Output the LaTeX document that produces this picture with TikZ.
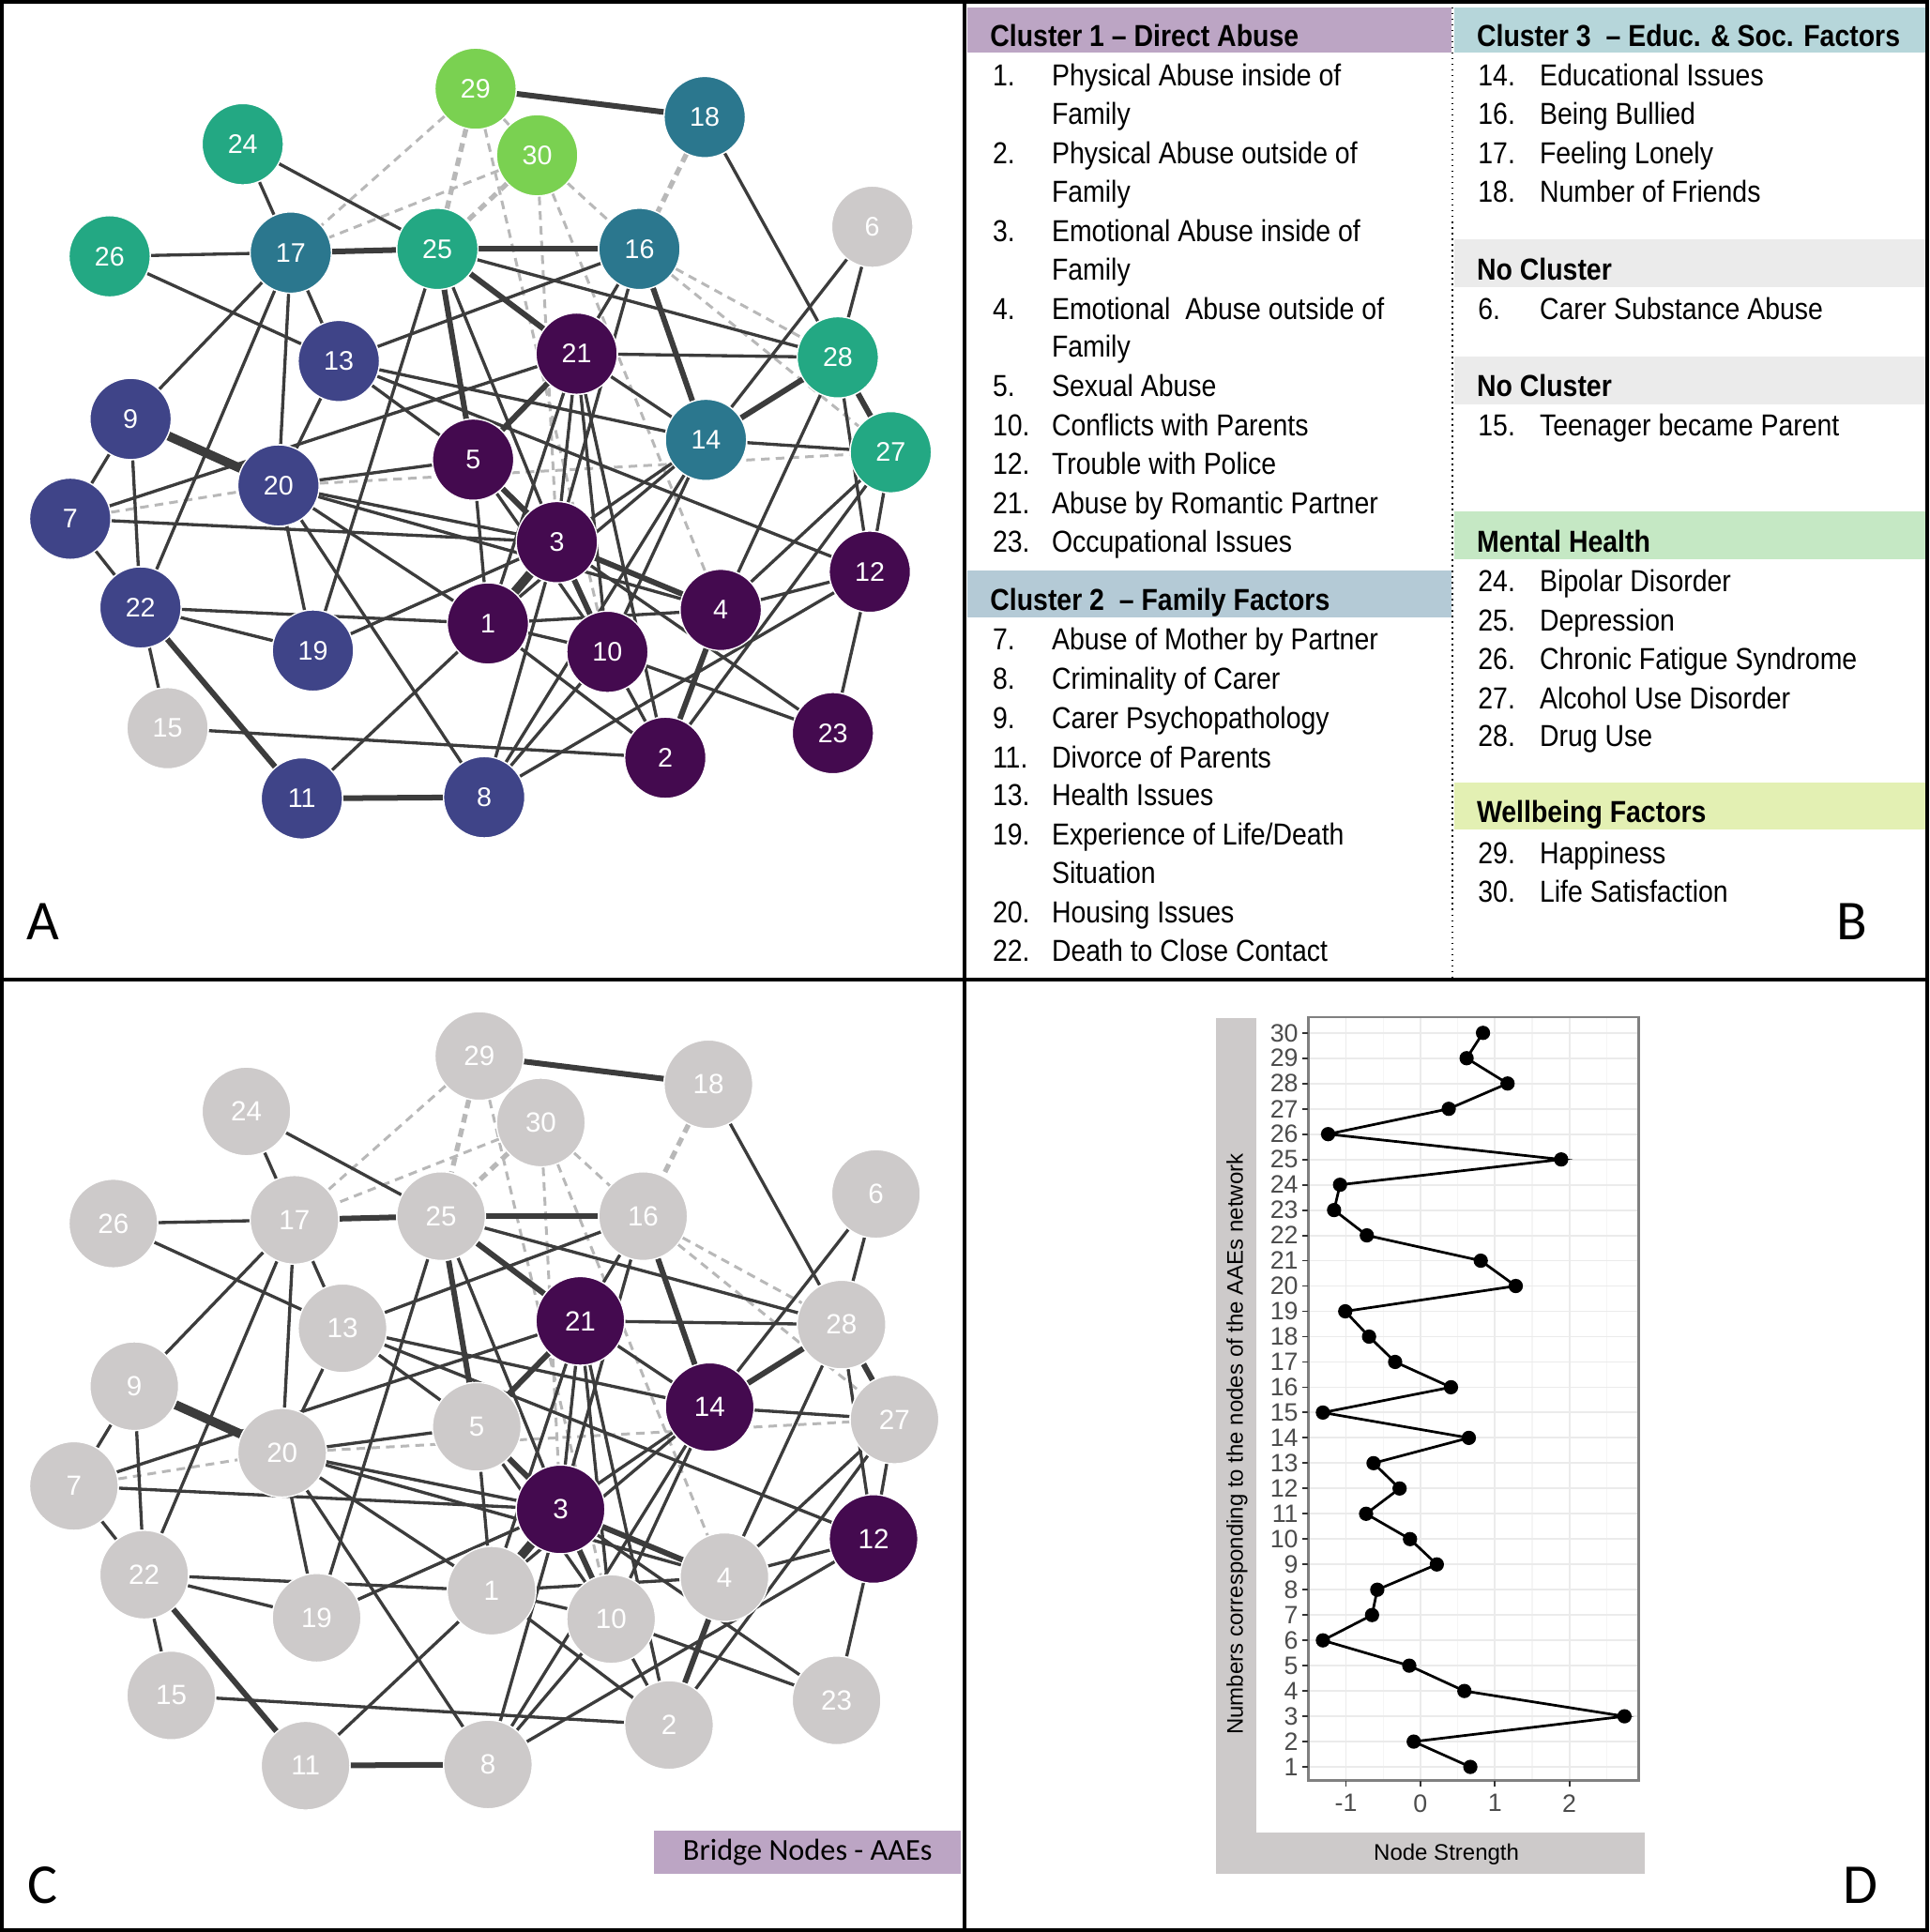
\documentclass[tikz,border=0pt]{standalone}
\usepackage{fontspec}
\setmainfont{Liberation Sans}
\newfontfamily\etroite[FakeStretch=0.88]{Liberation Sans}
\newfontfamily\policelettre{Carlito}
\usetikzlibrary{backgrounds}

\definecolor{violetA}{HTML}{440A4F}
\definecolor{indigoA}{HTML}{3F4488}
\definecolor{sarcelle}{HTML}{2B778E}
\definecolor{vertA}{HTML}{23A883}
\definecolor{vertclairA}{HTML}{7AD151}
\definecolor{grisA}{HTML}{CDCACA}
\definecolor{lavande}{HTML}{BCA5C4}
\definecolor{bleugris}{HTML}{B4CAD6}
\definecolor{bleuvert}{HTML}{B6D6DA}
\definecolor{grisclair}{HTML}{EBEBEB}
\definecolor{vertpale}{HTML}{C5E8C4}
\definecolor{jaunevert}{HTML}{E3F0B3}
\definecolor{trait}{HTML}{3C3C3C}
\definecolor{tiret}{HTML}{B8B8B8}

\def\noeuds{1/396/506/violetA/grisA, 2/540/615/violetA/grisA, 3/452/440/violetA/violetA,
4/585/495/violetA/grisA, 5/384/373/violetA/grisA, 6/708/184/grisA/grisA,
7/57/421/indigoA/grisA, 8/393/647/indigoA/grisA, 9/106/340/indigoA/grisA,
10/493/529/violetA/grisA, 11/245/648/indigoA/grisA, 12/706/464/violetA/violetA,
13/275/293/indigoA/grisA, 14/573/357/sarcelle/violetA, 15/136/591/grisA/grisA,
16/519/202/sarcelle/grisA, 17/236/205/sarcelle/grisA, 18/572/95/sarcelle/grisA,
19/254/528/indigoA/grisA, 20/226/394/indigoA/grisA, 21/468/287/violetA/violetA,
22/114/493/indigoA/grisA, 23/676/595/violetA/grisA, 24/197/117/vertA/grisA,
25/355/202/vertA/grisA, 26/89/208/vertA/grisA, 27/723/367/vertA/grisA,
28/680/290/vertA/grisA, 29/386/72/vertclairA/grisA, 30/436/126/vertclairA/grisA}

\def\liens{24/17,24/25,26/17,26/13,17/13,17/9,17/20,17/22,25/28,25/19,25/3,18/28,
16/21,16/3,13/16,6/14,6/28,21/28,21/14,21/3,21/10,21/2,21/1,7/21,14/27,13/14,
14/3,14/1,14/8,14/10,28/12,28/4,27/12,27/4,27/2,12/4,12/23,12/8,13/12,10/23,
3/23,1/4,20/4,7/3,20/3,19/3,3/8,1/2,5/1,22/1,11/1,20/1,1/10,13/5,20/5,5/10,
13/20,20/19,20/8,9/7,9/22,7/22,22/19,22/15,15/2,10/8,10/2}
\def\liensforts{17/25,25/16,25/21,25/5,29/18,16/14,21/5,14/28,28/27,3/4,4/2,
3/10,5/3,22/11,11/8}
\def\lienstresforts{3/1,9/20}
\def\pointilles{29/17,29/30,29/10,30/17,30/3,30/4,30/16,16/28,16/27,20/27,7/20,20/3}
\def\pointillesforts{29/25,30/25,18/16}

\def\entetes{785/6/1178/43/lavande/Cluster 1 – Direct Abuse,
1180/6/1564/43/bleuvert/Cluster 3~ – Educ. \& Soc. Factors,
785/463/1178/501/bleugris/Cluster 2~ – Family Factors,
1180/194/1564/233/grisclair/No Cluster,
1180/289/1564/328/grisclair/No Cluster,
1180/415/1564/454/vertpale/Mental Health,
1180/635/1564/673/jaunevert/Wellbeing Factors}

\def\listeGauche{61/1./Physical Abuse inside of, 92//Family, 124/2./Physical Abuse outside of,
155//Family, 187/3./Emotional Abuse inside of, 218//Family,
250/4./Emotional~ Abuse outside of, 281//Family, 313/5./Sexual Abuse,
345/10./Conflicts with Parents, 376/12./Trouble with Police,
408/21./Abuse by Romantic Partner, 439/23./Occupational Issues,
518/7./Abuse of Mother by Partner, 550/8./Criminality of Carer,
582/9./Carer Psychopathology, 614/11./Divorce of Parents, 645/13./Health Issues,
677/19./{Experience of Life/Death}, 708//Situation, 740/20./Housing Issues,
771/22./Death to Close Contact}

\def\listeDroite{61/14./Educational Issues, 92/16./Being Bullied, 124/17./Feeling Lonely,
155/18./Number of Friends, 250/6./Carer Substance Abuse, 345/15./Teenager became Parent,
471/24./Bipolar Disorder, 503/25./Depression, 534/26./Chronic Fatigue Syndrome,
566/27./Alcohol Use Disorder, 597/28./Drug Use, 692/29./Happiness, 723/30./Life Satisfaction}

\def\forces{1/0.67,2/-0.09,3/2.74,4/0.59,5/-0.15,6/-1.31,7/-0.65,8/-0.58,9/0.22,
10/-0.14,11/-0.73,12/-0.28,13/-0.63,14/0.65,15/-1.31,16/0.41,17/-0.34,18/-0.69,
19/-1.01,20/1.28,21/0.81,22/-0.72,23/-1.16,24/-1.08,25/1.89,26/-1.24,27/0.38,
28/1.17,29/0.62,30/0.84}

\begin{document}
\begin{tikzpicture}[x=0.01cm, y=-0.01cm]
\tikzstyle{noeud}=[circle, minimum size=0.66cm, inner sep=0pt, draw=white, line width=0.3pt, text=white, font=\fontsize{6.2}{7}\selectfont]
\tikzstyle{noeudC}=[noeud, minimum size=0.72cm, font=\fontsize{6.4}{7}\selectfont]
\tikzstyle{lien}=[draw=trait, line width=0.72pt]
\tikzstyle{lienfort}=[lien, line width=1.3pt]
\tikzstyle{lientresfort}=[lien, line width=2.1pt]
\tikzstyle{pointille}=[draw=tiret, line width=0.65pt, dash pattern=on 2pt off 1.4pt]
\tikzstyle{pointillefort}=[pointille, line width=1.15pt]
\tikzstyle{texte}=[anchor=base west, inner sep=0pt, font=\etroite\fontsize{7}{8}\selectfont]
\tikzstyle{entete}=[texte, font=\etroite\bfseries\fontsize{7}{8}\selectfont]
\tikzstyle{lettre}=[font=\policelettre\fontsize{13}{15}\selectfont]
\tikzstyle{cadre}=[line width=0.85pt]
\tikzstyle{grille}=[draw=black!8, line width=0.4pt]
\tikzstyle{grillefine}=[draw=black!4, line width=0.25pt]
\tikzstyle{etiquette}=[text=black!70, inner sep=0pt, font=\fontsize{5.8}{6}\selectfont]
\tikzstyle{titre}=[inner sep=0pt, font=\fontsize{5.2}{6}\selectfont]
\useasboundingbox (0,0) rectangle (1566,1568);

% panneau B
\foreach \xa/\ya/\xb/\yb/\cf/\t [count=\i] in \entetes {
\fill[\cf] (\xa,\ya) rectangle (\xb,\yb);
\node[entete] (h\i) at (\xa+18,{(\ya+\yb)/2+13.5}) {\t};
}
\foreach \y/\n/\t [count=\i] in \listeGauche {
\node[texte] (gn\i) at (805,\y+9) {\n};
\node[texte] (gt\i) at (853,\y+9) {\t};
}
\foreach \y/\n/\t [count=\i] in \listeDroite {
\node[texte] (dn\i) at (1199,\y+9) {\n};
\node[texte] (dt\i) at (1249,\y+9) {\t};
}

% panneaux A et C
\foreach \n/\x/\y/\ca/\cc in \noeuds {
\node[noeud, fill=\ca] (a\n) at (\x,\y) {\n};
\node[noeudC, fill=\cc] (c\n) at (\x+3,\y+785) {\n};
}
\begin{pgfonlayer}{background}
\foreach \p in {a,c} {
\foreach \u/\v in \pointilles {\draw[pointille] (\p\u) -- (\p\v);}
\foreach \u/\v in \pointillesforts {\draw[pointillefort] (\p\u) -- (\p\v);}
\foreach \u/\v in \liens {\draw[lien] (\p\u) -- (\p\v);}
\foreach \u/\v in \liensforts {\draw[lienfort] (\p\u) -- (\p\v);}
\foreach \u/\v in \lienstresforts {\draw[lientresfort] (\p\u) -- (\p\v);}
}
\end{pgfonlayer}
\node[fill=lavande, minimum width=2.49cm, minimum height=0.35cm, inner sep=0pt, font=\policelettre\fontsize{7}{8}\selectfont] (pont) at (655.5,1503.5) {Bridge Nodes - AAEs};

% panneau D
\fill[grisA] (987,826) rectangle (1020,1521);
\fill[grisA] (987,1487) rectangle (1335,1521);
\node[titre, rotate=90] (titreY) at (1004,1172) {Numbers corresponding to the nodes of the AAEs network};
\node[titre] (titreX) at (1174,1505) {Node Strength};
\begin{scope}[shift={(1152.9,1434)}, x=0.604cm, y=0.2053cm]
\fill[white] (-1.505,-0.536) rectangle (2.93,29.61);
\foreach \v in {-0.5,0.5,1.5,2.5} \draw[grillefine] (\v,-0.536) -- (\v,29.61);
\foreach \v in {-1,0,1,2} \draw[grille] (\v,-0.536) -- (\v,29.61);
\foreach \k in {1,...,30} \draw[grille] (-1.505,\k-1) -- (2.93,\k-1);
\draw[draw=black!50, line width=0.5pt] (-1.505,-0.536) rectangle (2.93,29.61);
\foreach \k in {1,...,30} {
\draw[black!80, line width=0.4pt] (-1.505,\k-1) -- (-1.585,\k-1);
\node[etiquette, anchor=east] (ey\k) at (-1.63,\k-1) {\k};
}
\foreach \v/\l in {-1/-1,0/0,1/1,2/2} {
\draw[black!80, line width=0.4pt] (\v,-0.536) -- (\v,-0.78);
\node[etiquette, anchor=north] (ex\v) at (\v,-1.05) {\l};
}
\foreach \k/\s in \forces \coordinate (p\k) at (\s,\k-1);
\draw[line width=0.6pt] (p1) \foreach \k in {2,...,30} {-- (p\k)};
\foreach \k in {1,...,30} \fill (p\k) circle (0.058cm);
\end{scope}

% lettres et cadres
\node[lettre] (lA) at (35,748) {A};
\node[lettre] (lB) at (1503,748) {B};
\node[lettre] (lC) at (35,1530) {C};
\node[lettre] (lD) at (1510,1530) {D};
\draw[densely dotted, line width=0.3pt] (1179,1.5) -- (1179,795);
\draw[cadre] (1.5,1.5) rectangle (1564.5,1566.5);
\draw[cadre] (783,1.5) -- (783,1566.5);
\draw[cadre] (1.5,795) -- (1564.5,795);
\end{tikzpicture}
\end{document}
